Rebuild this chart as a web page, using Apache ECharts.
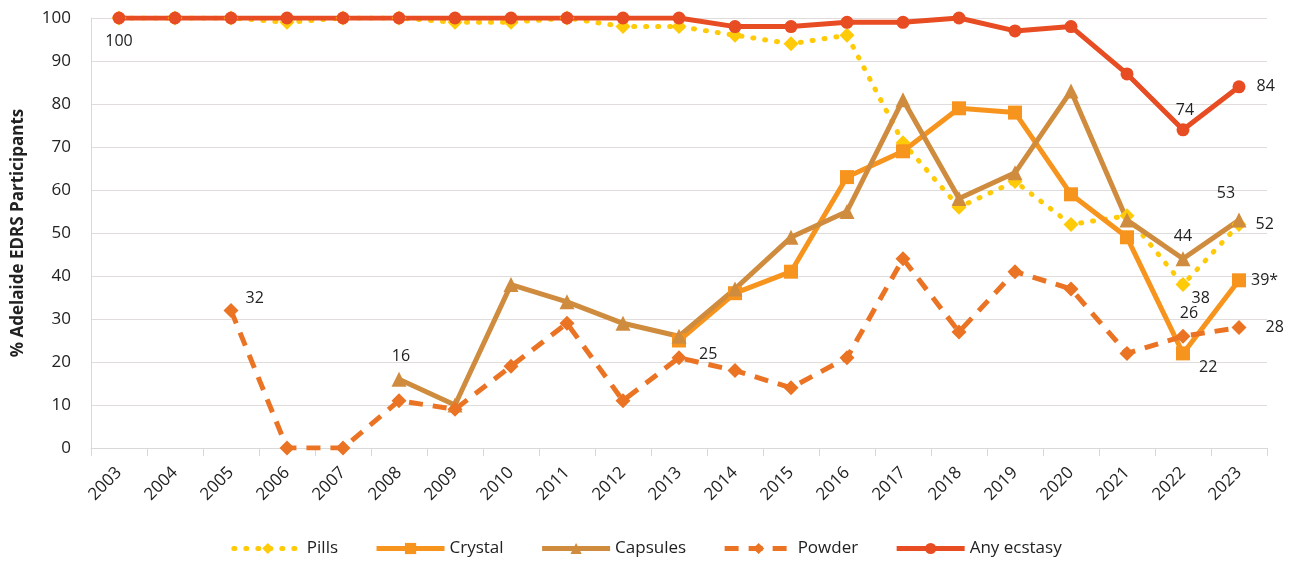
<!DOCTYPE html>
<html>
<head>
<meta charset="utf-8">
<script src="https://cdn.jsdelivr.net/npm/echarts@6/dist/echarts.min.js"></script>
<style>
html,body{margin:0;padding:0;background:#fff;}
#main{width:1293px;height:566px;}
</style>
</head>
<body>
<div id="main"></div>
<script>
var years = ['2003','2004','2005','2006','2007','2008','2009','2010','2011','2012','2013','2014','2015','2016','2017','2018','2019','2020','2021','2022','2023'];
var pills    = [100,100,100,99,100,100,99,99,100,98,98,96,94,96,71,56,62,52,54,38,52];
var crystal  = [null,null,null,null,null,null,null,null,null,null,25,36,41,63,69,79,78,59,49,22,39];
var capsules = [null,null,null,null,null,16,10,38,34,29,26,37,49,55,81,58,64,83,53,44,53];
var powder   = [null,null,32,0,0,11,9,19,29,11,21,18,14,21,44,27,41,37,22,26,28];
var anyEcstasy = [100,100,100,100,100,100,100,100,100,100,100,98,98,99,99,100,97,98,87,74,84];
var yTicks = [0,10,20,30,40,50,60,70,80,90,100];

var font = 'Open Sans';

// which points carry a value label: index -> [position, offset, text]
function withLabels(values, labels) {
  return values.map(function (v, i) {
    if (v === null) return '-';
    var l = labels[i];
    if (!l) return v;
    return {
      value: v,
      label: {
        show: true,
        position: l[0],
        offset: l[1] || [0, 0],
        formatter: l[2] || String(v),
        color: '#222',
        fontSize: 16,
        fontFamily: font
      }
    };
  });
}

var series = [
  {
    name: 'Pills', color: '#FFCA08', symbol: 'diamond', symbolSize: 15,
    lineStyle: {type: [1, 11], width: 5, cap: 'round'},
    data: withLabels(pills, {19: ['right', [-4, 14]], 20: ['right', [4, 0]]})
  },
  {
    name: 'Crystal', color: '#F7941D', symbol: 'rect', symbolSize: 14,
    lineStyle: {type: 'solid', width: 5},
    data: withLabels(crystal, {10: ['right', [8, 14]], 19: ['right', [4, 14]], 20: ['right', [0, 0], '39*']})
  },
  {
    name: 'Capsules', color: '#D08C3E', symbol: 'triangle', symbolSize: 15,
    lineStyle: {type: 'solid', width: 5},
    data: withLabels(capsules, {5: ['top', [2, -2]], 19: ['top', [0, -2]], 20: ['top', [-13, -6]]})
  },
  {
    name: 'Powder', color: '#EB7324', symbol: 'diamond', symbolSize: 15,
    lineStyle: {type: [14, 10], width: 5},
    data: withLabels(powder, {2: ['right', [2, -12]], 19: ['top', [6, -2]], 20: ['right', [14, 0]]})
  },
  {
    name: 'Any ecstasy', color: '#E84C22', symbol: 'circle', symbolSize: 13,
    lineStyle: {type: 'solid', width: 5},
    data: withLabels(anyEcstasy, {0: ['bottom', [0, 4]], 19: ['top', [2, 0]], 20: ['right', [6, 0]]})
  }
].map(function (s) {
  return {
    name: s.name,
    type: 'line',
    data: s.data,
    color: s.color,
    symbol: s.symbol,
    symbolSize: s.symbolSize,
    showAllSymbol: true,
    connectNulls: false,
    lineStyle: s.lineStyle,
    itemStyle: {color: s.color},
    emphasis: {disabled: true},
    animation: false
  };
});

var option = {
  animation: false,
  grid: {left: 91, right: 26, top: 18, bottom: 118},
  legend: {
    bottom: 4,
    itemWidth: 68,
    itemHeight: 14,
    itemGap: 36,
    lineStyle: {width: 5},
    textStyle: {fontSize: 17, color: '#222', fontFamily: font},
    data: ['Pills', 'Crystal', 'Capsules', 'Powder', 'Any ecstasy']
  },
  xAxis: {
    type: 'category',
    data: years,
    boundaryGap: true,
    axisLine: {lineStyle: {color: '#d9d9d9', width: 1}},
    axisTick: {show: true, interval: 0, length: 8, lineStyle: {color: '#d9d9d9'}},
    axisLabel: {interval: 0, rotate: 45, fontSize: 17, color: '#222', fontFamily: font, margin: 22}
  },
  yAxis: {
    type: 'value',
    min: yTicks[0],
    max: yTicks[yTicks.length - 1],
    interval: 10,
    name: '% Adelaide EDRS Participants',
    nameLocation: 'middle',
    nameGap: 64,
    nameRotate: 90,
    nameTextStyle: {fontSize: 17, fontWeight: 'bold', color: '#222', fontFamily: font},
    axisLine: {show: true, lineStyle: {color: '#d9d9d9'}},
    axisTick: {show: false},
    axisLabel: {fontSize: 17, color: '#222', fontFamily: font, margin: 20},
    splitLine: {lineStyle: {color: '#e0dcdc', width: 1}}
  },
  series: series
};

var myChart = echarts.init(document.getElementById('main'));
myChart.setOption(option);
</script>
</body>
</html>
